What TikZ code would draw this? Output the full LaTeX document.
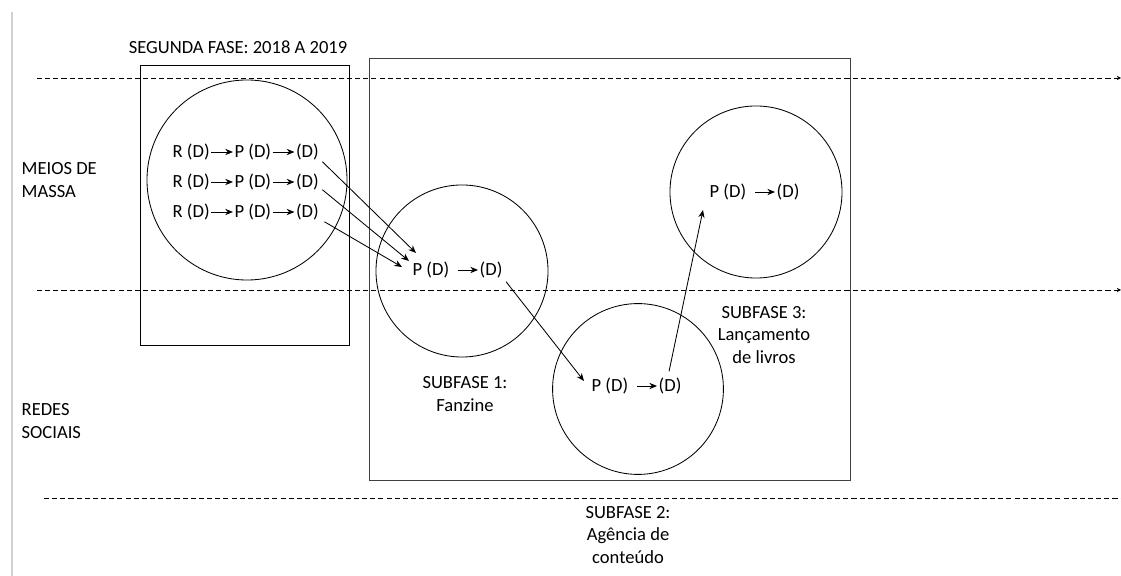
\documentclass[tikz,border=0pt]{standalone}
\usepackage{fontspec}
\setmainfont{Carlito}
\usetikzlibrary{calc, positioning}
\usetikzlibrary{arrows.meta}

\tikzset{
  lbl/.style={font=\fontsize{13.2}{16}\selectfont, inner sep=1pt},
  ring/.style={draw, circle, line width=0.6pt, inner sep=0pt},
  flow/.style={-{Stealth[length=5.5pt, width=4.5pt]}, line width=0.6pt},
  lane/.style={dash pattern=on 3.6pt off 2.2pt, line width=0.6pt,
    -{Stealth[length=3pt, width=3pt]}},
}

\begin{document}
\begin{tikzpicture}[x=0.025cm, y=-0.025cm]
\useasboundingbox (0,0) rectangle (1121,576);

% margem e faixas
\draw[gray!35, line width=1.5pt] (12,12) -- (12,576);
\coordinate (laneA) at (37,78);
\coordinate (laneAend) at (1121,78);
\coordinate (laneB) at (37,290);
\coordinate (laneBend) at (1121,290);
\coordinate (laneC) at (44,498);
\coordinate (laneCend) at (1121,498);
\draw[lane] (laneA) -- (laneAend);
\draw[lane] (laneB) -- (laneBend);
\draw[lane, -] (laneC) -- (laneCend);

% caixas
\draw[line width=0.6pt] (140,65) rectangle (349,345);
\draw[line width=0.6pt, black!75] (369,58) rectangle (850,480);

% circulos
\node[ring, minimum size=5cm] (c1) at (247,180) {};
\node[ring, minimum size=4.3cm] (c2) at (462,271) {};
\node[ring, minimum size=4.27cm] (c3) at (638,389) {};
\node[ring, minimum size=4.3cm] (c4) at (756,192) {};

% textos
\node[lbl] (fase) at (238,47) {SEGUNDA FASE: 2018 A 2019};
\node[lbl, anchor=west, align=left] (meios) at (20,180) {MEIOS DE\\MASSA};
\node[lbl, anchor=west, align=left] (redes) at (20,421) {REDES\\SOCIAIS};
\node[lbl, align=center] (sub1) at (465,394) {SUBFASE 1:\\Fanzine};
\node[lbl, align=center] (sub3) at (764,335) {SUBFASE 3:\\Lançamento\\de livros};
\node[lbl, align=center] (sub2) at (628,535) {SUBFASE 2:\\Agência de\\conteúdo};

% primeira bolha
\foreach \i/\yy in {1/152, 2/182, 3/212} {
  \node[lbl, anchor=west] (r\i) at (171,\yy) {R (D)};
  \node[lbl, right=0.54cm of r\i] (p\i) {P (D)};
  \node[lbl, right=0.54cm of p\i] (d\i) {(D)};
  \draw[flow] (r\i) -- (p\i);
  \draw[flow] (p\i) -- (d\i);
}

% bolhas das subfases
\node[lbl, anchor=west] (pa) at (411,270) {P (D)};
\node[lbl, right=0.68cm of pa] (da) {(D)};
\node[lbl, anchor=west] (pb) at (590,386) {P (D)};
\node[lbl, right=0.68cm of pb] (db) {(D)};
\node[lbl, anchor=west] (pc) at (708,192) {P (D)};
\node[lbl, right=0.68cm of pc] (dc) {(D)};
\draw[flow, shorten <=5pt] (pa) -- (da);
\draw[flow, shorten <=5pt] (pb) -- (db);
\draw[flow, shorten <=5pt] (pc) -- (dc);

% ligacoes
\coordinate (t1) at (416,253);
\coordinate (t2) at (409,261);
\coordinate (t3) at (402,267);
\coordinate (tb) at (584,381);
\coordinate (tc) at (703,210);
\draw[flow] ($(d1.south east)+(2,0)$) -- (t1);
\draw[flow] ($(d2.south east)+(2,-2)$) -- (t2);
\draw[flow] ($(d3.south east)+(4,0)$) -- (t3);
\draw[flow] ($(da.south east)+(2,2)$) -- (tb);
\draw[flow] ($(db.north)+(-1,-5)$) -- (tc);
\end{tikzpicture}
\end{document}
